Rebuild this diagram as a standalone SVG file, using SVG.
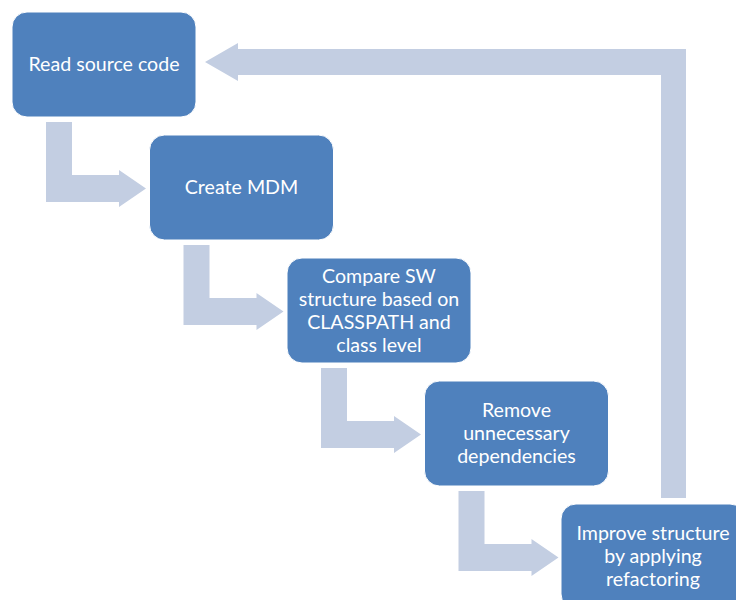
<svg xmlns="http://www.w3.org/2000/svg" width="736" height="600" viewBox="0 0 736 600">
<style>
.box{fill:#4F81BD;stroke:#ffffff;stroke-width:1}
.arr{fill:#C3CEE2}
.t{font-family:Lato,"Open Sans","Liberation Sans",sans-serif;font-size:19.6px;fill:#ffffff;text-anchor:middle}
</style>
<rect width="736" height="600" fill="#ffffff"/>
<g id="connectors">
<path class="arr" d="M46,122 H72 V175 H119 V170 L146,188.5 L119,207 V202 H46 Z"/>
<path class="arr" transform="translate(137.5,123)" d="M46,122 H72 V175 H119 V170 L146,188.5 L119,207 V202 H46 Z"/>
<path class="arr" transform="translate(275,246)" d="M46,122 H72 V175 H119 V170 L146,188.5 L119,207 V202 H46 Z"/>
<path class="arr" transform="translate(412.5,369)" d="M46,122 H72 V175 H119 V170 L146,188.5 L119,207 V202 H46 Z"/>
<path class="arr" d="M661,498 V75 H238 V81 L205,62 L238,43 V49 H686 V498 Z"/>
</g>
<g id="n1">
<rect class="box" x="12" y="12" width="184" height="105" rx="15"/>
<text class="t" x="104" y="71">Read source code</text>
</g>
<g id="n2">
<rect class="box" x="149.5" y="135" width="184" height="105" rx="15"/>
<text class="t" x="241.5" y="194">Create MDM</text>
</g>
<g id="n3">
<rect class="box" x="287" y="258" width="184" height="105" rx="15"/>
<text class="t" x="379" y="283">Compare SW</text>
<text class="t" x="379" y="306">structure based on</text>
<text class="t" x="379" y="329">CLASSPATH and</text>
<text class="t" x="379" y="352">class level</text>
</g>
<g id="n4">
<rect class="box" x="424.5" y="381" width="184" height="105" rx="15"/>
<text class="t" x="516.5" y="417">Remove</text>
<text class="t" x="516.5" y="440">unnecessary</text>
<text class="t" x="516.5" y="463">dependencies</text>
</g>
<g id="n5">
<rect class="box" x="561" y="504" width="184" height="105" rx="15"/>
<text class="t" x="653" y="540">Improve structure</text>
<text class="t" x="653" y="563">by applying</text>
<text class="t" x="653" y="586">refactoring</text>
</g>
</svg>
